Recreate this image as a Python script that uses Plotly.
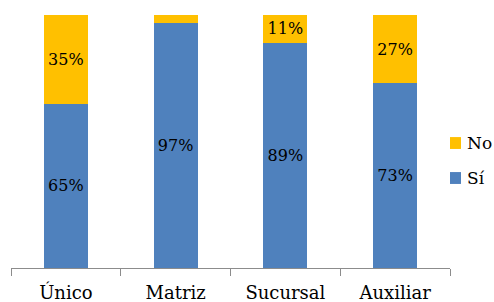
import plotly.graph_objects as go

categories = ["Único", "Matriz", "Sucursal", "Auxiliar"]
si_values = [65, 97, 89, 73]
no_values = [35, 3, 11, 27]
series_names = ["Sí", "No"]
series_colors = ["#4F81BD", "#FFC000"]

FONT = "DejaVu Serif"

def labels(vals):
    return [f"{v}%" if v >= 5 else "" for v in vals]

fig = go.Figure()
for name, vals, color in zip(series_names, [si_values, no_values], series_colors):
    fig.add_trace(go.Bar(
        x=categories, y=vals, name=name, showlegend=False,
        marker=dict(color=color, line=dict(width=0)),
        text=labels(vals), textposition="inside", insidetextanchor="middle",
        textangle=0, constraintext="none",
        textfont=dict(family=FONT, size=16, color="black"),
        hoverinfo="skip",
    ))

# Manual legend (reversed order: No on top, Sí below), placed right of the plot area
leg_x0, leg_sq_w, leg_text_x = 1.0, 0.025, 1.034
leg_top_center, leg_step, leg_sq_h = 0.494, 0.1383, 0.047
for i, (name, color) in enumerate(zip(series_names[::-1], series_colors[::-1])):
    yc = leg_top_center - i * leg_step
    fig.add_shape(type="rect", xref="paper", yref="paper",
                  x0=leg_x0, x1=leg_x0 + leg_sq_w,
                  y0=yc - leg_sq_h / 2, y1=yc + leg_sq_h / 2,
                  fillcolor=color, line=dict(width=0))
    fig.add_annotation(xref="paper", yref="paper", x=leg_text_x, y=yc,
                       xanchor="left", yanchor="middle", showarrow=False,
                       text=name, font=dict(family=FONT, size=17, color="black"))

fig.update_layout(
    width=494, height=302,
    barmode="stack", bargap=0.6,
    paper_bgcolor="white", plot_bgcolor="white",
    margin=dict(l=11, r=44, t=15, b=34, autoexpand=False),
    font=dict(family=FONT, size=18, color="black"),
    showlegend=False,
    xaxis=dict(
        showline=True, linecolor="#8C8C8C", linewidth=1,
        ticks="outside", tickson="boundaries", ticklen=7, tickcolor="#8C8C8C",
        ticklabelstandoff=8,
        tickfont=dict(family=FONT, size=18, color="black"),
        showgrid=False, zeroline=False, fixedrange=True,
    ),
    yaxis=dict(
        range=[0, 100], visible=False, showgrid=False, zeroline=False,
        fixedrange=True,
    ),
)

fig.write_html(
    "out.html",
    config={"displayModeBar": False, "staticPlot": True},
    post_script="document.body.style.margin='0';document.body.style.overflow='hidden';",
)
